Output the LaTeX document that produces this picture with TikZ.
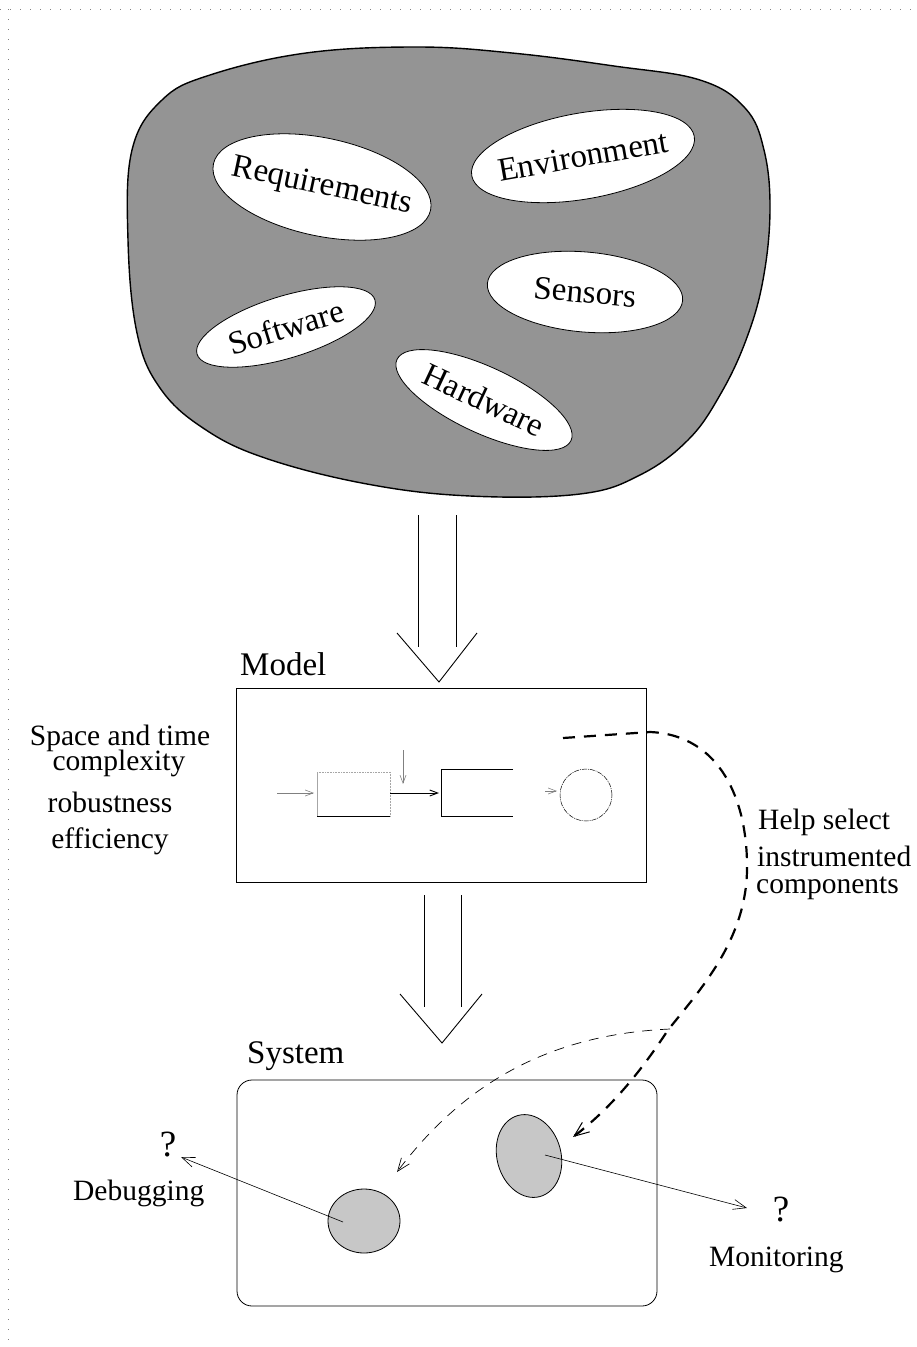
\documentclass[tikz,border=0pt]{standalone}
\usepackage{fontspec}
\setmainfont{Liberation Serif}
\usetikzlibrary{shapes.geometric,arrows.meta}
\newcommand{\zw}[1]{\makebox[0pt][c]{#1}}
\begin{document}
\begin{tikzpicture}[x=1pt,y=-1pt,
  blobell/.style={draw, fill=white, ellipse, font=\fontsize{33}{36}\selectfont, inner sep=0pt, line width=0.8pt},
  lbl/.style={font=\fontsize{29.5}{32}\selectfont, inner sep=0pt},
  qlbl/.style={font=\fontsize{37}{40}\selectfont, inner sep=0pt},
  biglbl/.style={font=\fontsize{33}{36}\selectfont, inner sep=0pt, anchor=base west},
  barb/.style={-{Straight Barb[length=13pt,width=10pt]}},
  barbsmall/.style={-{Straight Barb[length=8pt,width=6pt]}},
  hollow/.style={line width=0.9pt},
  frame/.style={gray, line width=0.8pt, dash pattern=on 1pt off 9pt}
]
\useasboundingbox (0,0) rectangle (917,1347);
% dotted frame
\draw[frame] (0,9) -- (917,9);
\draw[frame] (8,9) -- (8,1340);
% blob
\draw[line width=1.4pt, fill=black!42] plot[smooth cycle, tension=0.65] coordinates {(162,100) (210,75) (306,53) (417,47) (512,53) (614,66) (700,80) (745,108) (764,150) (770,210) (763,280) (746,340) (720,395) (688,440) (640,475) (580,494) (470,496) (367,484) (265,458) (203,428) (160,388) (137,333) (128,240) (132,150)};
\node[blobell, minimum width=222, minimum height=98, rotate=-12] (req) at (322,187) {\zw{Requirements}};
\node[blobell, minimum width=226, minimum height=86, rotate=10] (env) at (583,156) {\zw{Environment}};
\node[blobell, minimum width=196, minimum height=80, rotate=-5] (sen) at (585,292) {\zw{Sensors}};
\node[blobell, minimum width=186, minimum height=62, rotate=17] (soft) at (286,327) {\zw{Software}};
\node[blobell, minimum width=192, minimum height=66, rotate=-25] (hard) at (484,400) {\zw{Hardware}};
% hollow arrow 1
\draw[hollow] (418,515) -- (418,647);
\draw[hollow] (456,515) -- (456,647);
\draw[hollow] (397,633) -- (439,682) -- (477,633);
% model
\node[draw, line width=0.8pt, minimum width=410, minimum height=194, inner sep=0pt] (model) at (441,785) {};
\node[biglbl] (modellbl) at (240,675) {Model};
\draw[gray, line width=0.6pt, barbsmall] (277,793) -- (314,793);
\draw[gray!70, line width=0.6pt, densely dotted] (317,772) -- (390,772);
\draw[gray!70, line width=0.6pt] (317,772) -- (317,816);
\draw[line width=0.7pt] (317,816) -- (390,816);
\draw[gray!70, line width=0.5pt, densely dotted] (390,772) -- (390,816);
\draw[gray, line width=0.6pt, barbsmall] (403,750) -- (403,784);
\draw[line width=0.9pt, barbsmall] (390,793) -- (439,793);
\draw[line width=0.7pt] (513,769) -- (441,769) -- (441,816) -- (513,816);
\draw[gray, line width=0.6pt, barbsmall] (545,791) -- (557,791);
\node[draw, circle, minimum size=52, inner sep=0pt, line width=0.5pt, dash pattern=on 5pt off 1pt on 1pt off 1pt] (circ) at (586,795) {};
% left texts
\node[lbl, anchor=base] (t1) at (120,745) {Space and time};
\node[lbl, anchor=base] (t2) at (119,770) {complexity};
\node[lbl, anchor=base] (t3) at (110,812) {robustness};
\node[lbl, anchor=base] (t4) at (110,848) {efficiency};
% hollow arrow 2
\draw[hollow] (424,895) -- (424,1007);
\draw[hollow] (461,895) -- (461,1007);
\draw[hollow] (400,994) -- (442,1043) -- (482,994);
% system
\node[draw, line width=0.8pt, rounded corners=15pt, minimum width=420, minimum height=226, inner sep=0pt] (sys) at (447,1193) {};
\node[biglbl] (syslbl) at (247,1063) {System};
\node[draw, ellipse, fill=black!22, line width=0.8pt, minimum width=72, minimum height=64, inner sep=0pt] (lell) at (364,1221) {};
\node[draw, ellipse, fill=black!22, line width=0.8pt, minimum width=64, minimum height=84, inner sep=0pt, rotate=15] (rell) at (529,1156) {};
% help select
\node[lbl, anchor=base west] (h1) at (758,829) {Help select};
\node[lbl, anchor=base west] (h2) at (757,866) {instrumented};
\node[lbl, anchor=base west] (h3) at (756,893) {components};
% dashed connectors
\coordinate (dstart) at (563,738);
\coordinate (dtip) at (573,1137);
\draw[line width=2.2pt, dash pattern=on 12pt off 9pt, -{Straight Barb[length=15pt,width=12pt,line width=1pt]}] (dstart) -- (650,732) .. controls (720,735) and (748,800) .. (747,870) .. controls (746,940) and (700,990) .. (668,1030) .. controls (645,1065) and (615,1105) .. (dtip);
\coordinate (tstart) at (670,1029);
\coordinate (ttip) at (397,1172);
\draw[line width=0.7pt, dash pattern=on 10pt off 8pt, barb] (tstart) .. controls (560,1034) and (470,1075) .. (ttip);
% debugging / monitoring
\node[qlbl, anchor=base] (qd) at (168,1156) {?};
\node[lbl, anchor=base west] (dbg) at (73,1200) {Debugging};
\coordinate (dbgs) at (343,1222);
\coordinate (dbgt) at (181,1157);
\draw[line width=0.6pt, barb] (dbgs) -- (dbgt);
\node[qlbl, anchor=base] (qm) at (781,1221) {?};
\node[lbl, anchor=base west] (mon) at (709,1266) {Monitoring};
\coordinate (mons) at (545,1155);
\coordinate (mont) at (747,1208);
\draw[line width=0.6pt, barb] (mons) -- (mont);
\end{tikzpicture}
\end{document}
